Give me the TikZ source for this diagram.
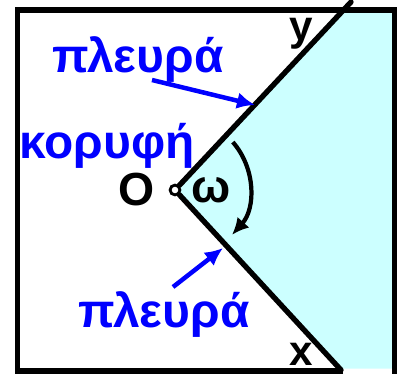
\documentclass[tikz,border=0pt]{standalone}
\usepackage{fontspec}
\setmainfont{Liberation Sans}
\usetikzlibrary{arrows.meta,positioning,calc}
\definecolor{angCyan}{HTML}{CCFFFF}
\definecolor{angBlue}{HTML}{0000FF}

\begin{document}
\begin{tikzpicture}[x=0.025cm,y=-0.025cm,
  lblue/.style={text=angBlue,font=\fontsize{34}{40}\selectfont\bfseries,inner sep=0pt},
  lblack/.style={font=\fontsize{33}{38}\selectfont\bfseries,inner sep=0pt},
  side/.style={line width=3.8pt,line cap=round},
  pointer/.style={angBlue,line width=3.2pt,-{Latex[length=4.5mm,width=4.2mm]}}]
\useasboundingbox (0,0) rectangle (398,374);
\coordinate (yend) at (351,2);
\coordinate (xend) at (341,370);
\fill[angCyan] (175,190) -- (341,12) -- (393,12) -- (393,368.5) -- (339,368.5) -- cycle;
\draw[line width=3.8pt] (343,371) -- (17.5,371) -- (17.5,10) -- (394.5,10) -- (394.5,374);
\node[circle,draw,fill=white,line width=2pt,inner sep=0pt,minimum size=7pt] (O) at (175,190) {};
\draw[side] (O) -- (yend);
\draw[side] (O) -- (xend);
\node[lblack,left=3.5mm of O] (Olbl) {O};
\node[lblack,right=2.5mm of O] (w) {ω};
\node[lblack,font=\fontsize{30}{34}\selectfont\bfseries,anchor=base] (ylbl) at (301,41) {y};
\node[lblack,font=\fontsize{30}{34}\selectfont\bfseries,anchor=base] (xlbl) at (301,365) {x};
\node[lblue,anchor=base] (sideU) at (138,72) {πλευρά};
\node[lblue,anchor=base] (apex) at (107,158) {κορυφή};
\node[lblue,anchor=base] (sideD) at (164,327) {πλευρά};
% pointers to the two sides
\coordinate (tailU) at (152,80);
\coordinate (tipU) at (255,105);
\coordinate (tailD) at (173,287);
\coordinate (tipD) at (223,248);
\draw[pointer] (tailU) -- (tipU);
\draw[pointer] (tailD) -- (tipD);
% the angle
\coordinate (arcS) at ($(180,188)+(-41:70)$);
\draw[line width=3pt,-{Latex[length=4.2mm,width=4mm]}] (arcS) arc[start angle=-41,end angle=42,radius=70];
\end{tikzpicture}
\end{document}
